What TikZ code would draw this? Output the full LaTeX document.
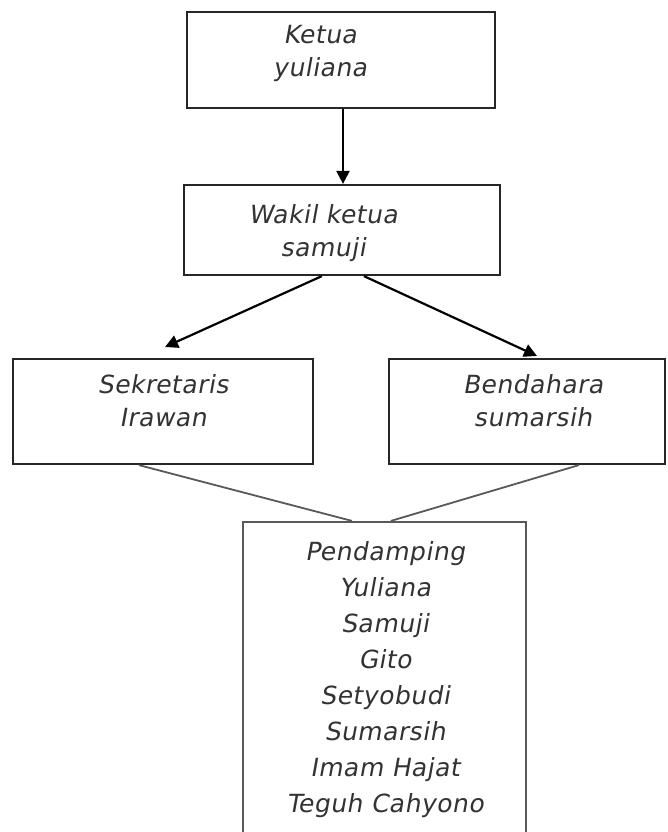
\documentclass[tikz,border=0pt]{standalone}
\usepackage{fontspec}
\newfontfamily\lab{DejaVu Sans}[FakeSlant=0.18,LetterSpace=2]
\usetikzlibrary{arrows.meta}
\begin{document}
\begin{tikzpicture}[x=1pt,y=-1pt,
  box/.style={draw=black!85,line width=2.2pt,rectangle,inner sep=0pt},
  lbl/.style={font=\lab\fontsize{25pt}{33pt}\selectfont,align=center,text=black!80,inner sep=0pt},
  arr/.style={line width=2.2pt,-{Triangle[length=13pt,width=13pt]}},
  thin/.style={line width=1.8pt,draw=black!65}]
\useasboundingbox (0,0) rectangle (667,832);
\fill[white] (0,0) rectangle (667,832);
% boxes
\node[box,minimum width=308pt,minimum height=96pt] (top) at (341,60) {};
\node[box,minimum width=316pt,minimum height=90pt] (wak) at (342,230) {};
\node[box,minimum width=300pt,minimum height=105pt] (sek) at (163,411.5) {};
\node[box,minimum width=276pt,minimum height=105pt] (ben) at (527,411.5) {};
\node[box,draw=black!65,minimum width=283pt,minimum height=318pt] (pen) at (384.5,681) {};
% texts
\node[lbl] (ttop) at (320,53) {Ketua\\yuliana};
\node[lbl] (twak) at (323,233) {Wakil ketua\\samuji};
\node[lbl] (tsek) at (163,401) {Sekretaris\\Irawan};
\node[lbl] (tben) at (533,401) {Bendahara\\sumarsih};
\node[lbl,font=\lab\fontsize{25pt}{36pt}\selectfont] (tpen) at (385,680) {Pendamping\\Yuliana\\Samuji\\Gito\\Setyobudi\\Sumarsih\\Imam Hajat\\Teguh Cahyono};
% connector ends
\coordinate (wl) at ([xshift=139pt]wak.south west);
\coordinate (wr) at ([xshift=181pt]wak.south west);
\coordinate (sl) at (165,347);
\coordinate (br) at (537,356);
\coordinate (sb) at ([xshift=127pt]sek.south west);
\coordinate (bb) at ([xshift=191pt]ben.south west);
\coordinate (pl) at ([xshift=110pt]pen.north west);
\coordinate (pr) at ([xshift=149pt]pen.north west);
% connectors
\draw[arr] ([xshift=2pt]top.south) -- ([xshift=1pt]wak.north);
\draw[arr] (wl) -- (sl);
\draw[arr] (wr) -- (br);
\draw[thin] (sb) -- (pl);
\draw[thin] (bb) -- (pr);
\end{tikzpicture}
\end{document}
